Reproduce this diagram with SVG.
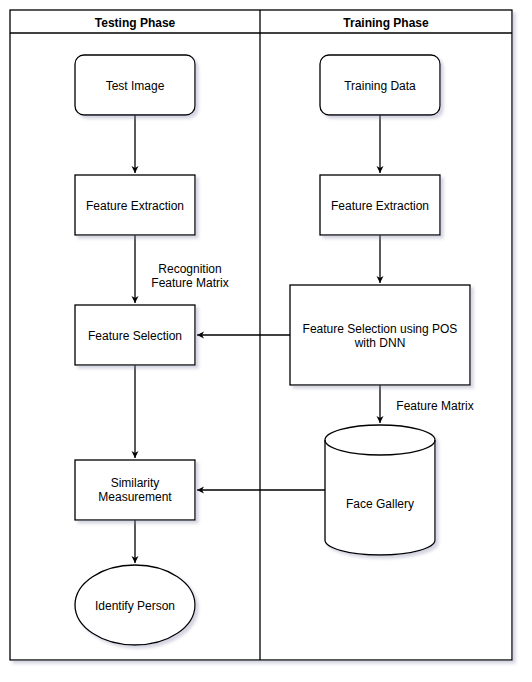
<svg xmlns="http://www.w3.org/2000/svg" width="532" height="682" viewBox="0 0 532 682">
<defs>
<filter id="sh" x="-10%" y="-10%" width="130%" height="130%">
<feGaussianBlur in="SourceAlpha" stdDeviation="1.5"/>
<feOffset dx="3" dy="3" result="b"/>
<feFlood flood-color="#8888aa" flood-opacity="0.35"/>
<feComposite in2="b" operator="in"/>
<feMerge><feMergeNode/><feMergeNode in="SourceGraphic"/></feMerge>
</filter>
<marker id="ar" markerWidth="10" markerHeight="10" refX="8" refY="5" orient="auto" markerUnits="userSpaceOnUse">
<path d="M1,1.5 L8,5 L1,8.5 L3,5 Z" fill="#000"/>
</marker>
<style>
.s{fill:#fff;stroke:#000;stroke-width:1.3}
.t{font-family:"Liberation Sans",Arial,sans-serif;font-size:12px;fill:#000;text-anchor:middle}
.h{font-weight:bold}
.c{fill:none;stroke:#000;stroke-width:1.3}
</style>
</defs>
<g id="pool" filter="url(#sh)">
<rect class="s" x="10" y="10" width="502" height="650"/>
<line class="c" x1="10" y1="33" x2="512" y2="33"/>
<line class="c" x1="260" y1="10" x2="260" y2="660"/>
</g>
<text class="t h" x="135" y="27">Testing Phase</text>
<text class="t h" x="386" y="27">Training Phase</text>
<g id="connectors">
<line class="c" x1="135" y1="115" x2="135" y2="173" marker-end="url(#ar)"/>
<line class="c" x1="135" y1="235" x2="135" y2="303" marker-end="url(#ar)"/>
<line class="c" x1="135" y1="365" x2="135" y2="458" marker-end="url(#ar)"/>
<line class="c" x1="135" y1="520" x2="135" y2="563" marker-end="url(#ar)"/>
<line class="c" x1="380" y1="115" x2="380" y2="173" marker-end="url(#ar)"/>
<line class="c" x1="380" y1="235" x2="380" y2="283" marker-end="url(#ar)"/>
<line class="c" x1="380" y1="385" x2="380" y2="423" marker-end="url(#ar)"/>
<line class="c" x1="290" y1="335" x2="197" y2="335" marker-end="url(#ar)"/>
<line class="c" x1="325" y1="490" x2="197" y2="490" marker-end="url(#ar)"/>
<text class="t" x="190" y="273">Recognition</text>
<text class="t" x="190" y="287">Feature Matrix</text>
<text class="t" x="435" y="410">Feature Matrix</text>
</g>
<g id="test-image" filter="url(#sh)">
<rect class="s" x="75" y="55" width="120" height="60" rx="9"/>
</g>
<text class="t" x="135" y="90">Test Image</text>
<g id="training-data" filter="url(#sh)">
<rect class="s" x="320" y="55" width="120" height="60" rx="9"/>
</g>
<text class="t" x="380" y="90">Training Data</text>
<g id="fe-left" filter="url(#sh)">
<rect class="s" x="75" y="175" width="120" height="60"/>
</g>
<text class="t" x="135" y="210">Feature Extraction</text>
<g id="fe-right" filter="url(#sh)">
<rect class="s" x="320" y="175" width="120" height="60"/>
</g>
<text class="t" x="380" y="210">Feature Extraction</text>
<g id="fs-left" filter="url(#sh)">
<rect class="s" x="75" y="305" width="120" height="60"/>
</g>
<text class="t" x="135" y="340">Feature Selection</text>
<g id="fs-right" filter="url(#sh)">
<rect class="s" x="290" y="285" width="180" height="100"/>
</g>
<text class="t" x="380" y="333">Feature Selection using POS</text>
<text class="t" x="380" y="347">with DNN</text>
<g id="similarity" filter="url(#sh)">
<rect class="s" x="75" y="460" width="120" height="60"/>
</g>
<text class="t" x="135" y="487">Similarity</text>
<text class="t" x="135" y="501">Measurement</text>
<g id="face-gallery" filter="url(#sh)">
<path class="s" d="M325,440 A55,15 0 0 1 435,440 L435,540 A55,15 0 0 1 325,540 Z"/>
<path class="c" d="M325,440 A55,15 0 0 0 435,440"/>
</g>
<text class="t" x="380" y="508">Face Gallery</text>
<g id="identify" filter="url(#sh)">
<ellipse class="s" cx="135" cy="605" rx="60" ry="40"/>
</g>
<text class="t" x="135" y="610">Identify Person</text>
</svg>
